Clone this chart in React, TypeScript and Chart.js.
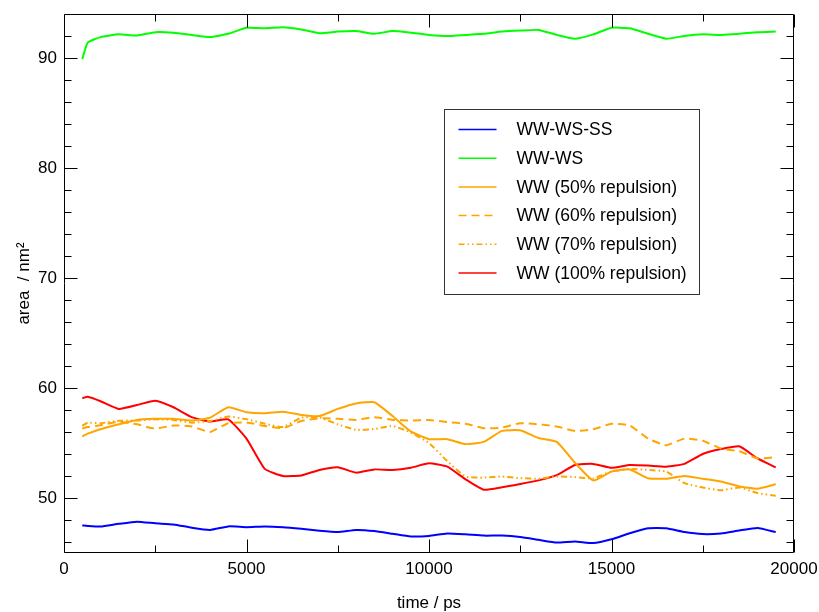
import React, { useEffect, useRef } from "react";
import { Chart, registerables } from "chart.js";

Chart.register(...registerables);

const time = [500, 650, 1000, 1500, 2000, 2500, 3000, 3500, 4000, 4500, 5000, 5500, 6000, 6500, 7000, 7500, 8000, 8500, 9000, 9500, 10000, 10500, 11000, 11500, 12000, 12500, 13000, 13500, 14000, 14500, 15000, 15500, 16000, 16500, 17000, 17500, 18000, 18500, 19000, 19500];

const wwWsSs = [47.5, 47.45, 47.4, 47.65, 47.85, 47.7, 47.6, 47.3, 47.1, 47.42, 47.35, 47.42, 47.35, 47.2, 47.02, 46.9, 47.1, 47.0, 46.75, 46.5, 46.55, 46.78, 46.7, 46.58, 46.58, 46.45, 46.2, 45.95, 46.05, 45.9, 46.25, 46.8, 47.25, 47.25, 46.9, 46.72, 46.78, 47.05, 47.28, 46.9];

const wwWs = [89.9, 91.4, 91.9, 92.15, 92.05, 92.35, 92.3, 92.1, 91.9, 92.2, 92.75, 92.7, 92.8, 92.6, 92.25, 92.4, 92.45, 92.2, 92.45, 92.3, 92.1, 92.0, 92.1, 92.2, 92.4, 92.5, 92.55, 92.1, 91.75, 92.15, 92.75, 92.7, 92.2, 91.75, 92.0, 92.15, 92.1, 92.2, 92.35, 92.4];

const ww50 = [55.6, 55.85, 56.25, 56.7, 57.1, 57.2, 57.2, 57.05, 57.3, 58.25, 57.8, 57.7, 57.85, 57.55, 57.45, 58.1, 58.6, 58.7, 57.45, 56.05, 55.35, 55.35, 54.9, 55.1, 56.1, 56.15, 55.45, 55.1, 53.2, 51.6, 52.4, 52.6, 51.8, 51.75, 52.0, 51.75, 51.5, 51.05, 50.85, 51.25];

const ww60 = [56.32, 56.45, 56.62, 56.93, 56.7, 56.3, 56.6, 56.5, 56.0, 56.8, 56.87, 56.55, 56.35, 57.0, 57.25, 57.2, 57.1, 57.35, 57.1, 57.05, 57.1, 56.9, 56.75, 56.35, 56.4, 56.8, 56.7, 56.5, 56.1, 56.25, 56.75, 56.6, 55.4, 54.8, 55.4, 55.2, 54.5, 54.25, 53.6, 53.7];

const ww70 = [56.56, 56.85, 56.8, 57.02, 57.05, 57.15, 57.1, 56.85, 57.0, 57.4, 57.17, 56.75, 56.45, 57.3, 57.32, 56.7, 56.2, 56.27, 56.55, 55.95, 55.0, 53.35, 51.95, 51.85, 51.95, 51.81, 51.75, 51.96, 51.9, 51.78, 52.42, 52.63, 52.55, 52.4, 51.35, 50.96, 50.7, 50.95, 50.45, 50.2];

const ww100 = [59.07, 59.2, 58.8, 58.1, 58.45, 58.85, 58.25, 57.35, 56.95, 57.15, 55.4, 52.65, 52.0, 52.05, 52.55, 52.8, 52.3, 52.6, 52.55, 52.75, 53.15, 52.85, 51.7, 50.75, 50.97, 51.27, 51.6, 52.08, 53.0, 53.1, 52.75, 53.0, 52.95, 52.85, 53.1, 54.0, 54.45, 54.7, 53.6, 52.78];

const seriesLabels = ["WW-WS-SS", "WW-WS", "WW (50% repulsion)", "WW (60% repulsion)", "WW (70% repulsion)", "WW (100% repulsion)"];
const seriesValues = [wwWsSs, wwWs, ww50, ww60, ww70, ww100];
const seriesColors = ["#0000ff", "#00ff00", "#ffa500", "#ffa500", "#ffa500", "#ff0000"];
const seriesDashes: number[][] = [[], [], [], [8, 5], [6, 3, 1.5, 3, 1.5, 3], []];

const xMajorTicks = [0, 5000, 10000, 15000, 20000];
const xMinorTicks = [2500, 7500, 12500, 17500];
const yMajorTicks = [50, 60, 70, 80, 90];
const yMinorTicks = [46, 48, 52, 54, 56, 58, 62, 64, 66, 68, 72, 74, 76, 78, 82, 84, 86, 88, 92];

const FONT = "'Liberation Sans', Arial, Helvetica, sans-serif";

const framePlugin = {
  id: "frameTicks",
  afterDatasetsDraw(chart: any) {
    const { ctx, chartArea: a, scales } = chart;
    const xs = scales.x;
    const ys = scales.y;
    ctx.save();
    ctx.strokeStyle = "#000";
    ctx.lineWidth = 1;
    const L = Math.round(a.left) + 0.5;
    const R = Math.round(a.right) - 0.5;
    const T = Math.round(a.top) + 0.5;
    const B = Math.round(a.bottom) - 0.5;
    ctx.beginPath();
    ctx.rect(L, T, R - L, B - T);
    ctx.stroke();
    const major = 13;
    const minor = 7;
    ctx.beginPath();
    const xt = (v: number, len: number) => {
      const p = Math.round(xs.getPixelForValue(v)) + 0.5;
      ctx.moveTo(p, B);
      ctx.lineTo(p, B - len);
      ctx.moveTo(p, T);
      ctx.lineTo(p, T + len);
    };
    const yt = (v: number, len: number) => {
      const p = Math.round(ys.getPixelForValue(v)) + 0.5;
      ctx.moveTo(L, p);
      ctx.lineTo(L + len, p);
      ctx.moveTo(R, p);
      ctx.lineTo(R - len, p);
    };
    xMajorTicks.forEach((v) => xt(v, major));
    xMinorTicks.forEach((v) => xt(v, minor));
    yMajorTicks.forEach((v) => yt(v, major));
    yMinorTicks.forEach((v) => yt(v, minor));
    ctx.stroke();

    // legend
    const bx = a.left + 380.5;
    const by = a.top + 95.5;
    const bw = 255;
    const bh = 185;
    ctx.fillStyle = "#fff";
    ctx.fillRect(bx, by, bw, bh);
    ctx.strokeStyle = "#333";
    ctx.strokeRect(bx, by, bw, bh);
    ctx.font = `17.5px ${FONT}`;
    ctx.textBaseline = "middle";
    ctx.textAlign = "left";
    chart.data.datasets.forEach((ds: any, i: number) => {
      const y = by + 20 + i * 28.7;
      ctx.strokeStyle = ds.borderColor;
      ctx.lineWidth = 1.5;
      ctx.setLineDash(ds.borderDash || []);
      ctx.beginPath();
      ctx.moveTo(bx + 14, y);
      ctx.lineTo(bx + 52, y);
      ctx.stroke();
      ctx.setLineDash([]);
      ctx.fillStyle = "#000";
      ctx.fillText(ds.label, bx + 72, y + 1);
    });
    ctx.restore();
  },
};

const zeroPad = (s: any) => {
  s.paddingLeft = 0;
  s.paddingRight = 0;
  s.paddingTop = 0;
  s.paddingBottom = 0;
};

export default function App() {
  const ref = useRef<HTMLCanvasElement>(null);
  useEffect(() => {
    if (!ref.current) return;
    const chart = new Chart(ref.current, {
      type: "line",
      data: {
        datasets: seriesLabels.map((label, i) => ({
          label,
          data: time.map((t, j) => ({ x: t, y: seriesValues[i][j] })),
          borderColor: seriesColors[i],
          backgroundColor: seriesColors[i],
          borderDash: seriesDashes[i],
          borderWidth: 2,
          pointRadius: 0,
          tension: 0.15,
          fill: false,
        })),
      },
      options: {
        animation: false,
        responsive: false,
        events: [],
        layout: { padding: { top: 14, right: 25, left: 0, bottom: 0 } },
        plugins: { legend: { display: false }, tooltip: { enabled: false } },
        scales: {
          x: {
            type: "linear",
            min: 0,
            max: 20000,
            grid: { display: false, drawTicks: false },
            border: { display: false },
            afterBuildTicks: (s: any) => {
              s.ticks = xMajorTicks.map((v) => ({ value: v }));
            },
            afterFit: (s: any) => {
              s.height = 59;
              zeroPad(s);
            },
            ticks: {
              color: "#000",
              padding: 6,
              maxRotation: 0,
              font: { family: FONT, size: 17 },
              callback: (v: any) => String(v),
            },
            title: {
              display: true,
              text: "time / ps",
              color: "#000",
              font: { family: FONT, size: 17, lineHeight: 1 },
              padding: { top: 0, bottom: 0 },
            },
          },
          y: {
            type: "linear",
            min: 45,
            max: 94,
            grid: { display: false, drawTicks: false },
            border: { display: false },
            afterBuildTicks: (s: any) => {
              s.ticks = yMajorTicks.map((v) => ({ value: v }));
            },
            afterFit: (s: any) => {
              s.width = 64;
              zeroPad(s);
            },
            ticks: {
              color: "#000",
              padding: 7,
              font: { family: FONT, size: 17 },
              callback: (v: any) => String(v),
            },
            title: {
              display: true,
              text: "area  / nm²",
              color: "#000",
              font: { family: FONT, size: 17 },
              padding: { top: 14, bottom: 0 },
            },
          },
        },
      },
      plugins: [framePlugin],
    } as any);
    return () => chart.destroy();
  }, []);
  return (
    <div style={{ position: "fixed", left: 0, top: 0, width: 819, height: 612, background: "#fff" }}>
      <canvas ref={ref} width={819} height={612} style={{ display: "block" }} />
    </div>
  );
}
